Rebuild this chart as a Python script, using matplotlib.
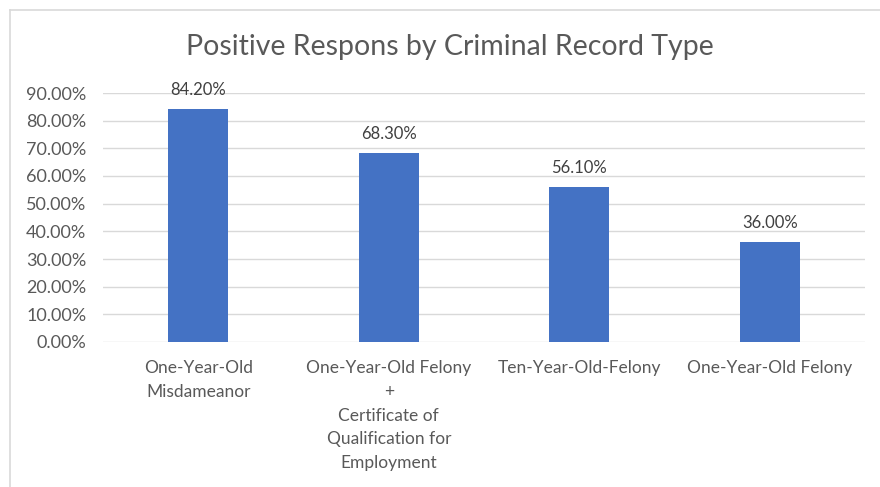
import matplotlib
matplotlib.use("Agg")
import matplotlib.pyplot as plt
from matplotlib.lines import Line2D
from matplotlib.ticker import FuncFormatter

categories = ["One-Year-Old\nMisdameanor",
              "One-Year-Old Felony\n+\nCertificate of\nQualification for\nEmployment",
              "Ten-Year-Old-Felony",
              "One-Year-Old Felony"]
values = [84.2, 68.3, 56.1, 36.0]
yticks = [0, 10, 20, 30, 40, 50, 60, 70, 80, 90]
title = "Positive Respons by Criminal Record Type"

W, H = 880, 487
fig = plt.figure(figsize=(W/100, H/100), dpi=100)
plt.rcParams['font.family'] = ['Lato', 'DejaVu Sans']
txt = '#595959'

# chart border
fig.add_artist(Line2D([10/W, 1], [1-10/H, 1-10/H], color='#d9d9d9', lw=1.2, transform=fig.transFigure))
fig.add_artist(Line2D([10/W, 10/W], [0, 1-10/H], color='#d9d9d9', lw=1.2, transform=fig.transFigure))

left, right = 103, 865
top, bottom = 93, 342
ax = fig.add_axes([left/W, 1-bottom/H, (right-left)/W, (bottom-top)/H])
x = range(len(values))
bars = ax.bar(x, values, width=0.315, color='#4472C4', zorder=3)
ax.set_xlim(-0.5, len(values)-0.5)
ax.set_ylim(0, 90)
ax.set_yticks(yticks)
ax.yaxis.set_major_formatter(FuncFormatter(lambda v, p: f"{v:.2f}%"))
ax.grid(axis='y', color='#d9d9d9', lw=1, zorder=0)
for s in ax.spines.values():
    s.set_visible(False)
ax.tick_params(axis='both', length=0, colors=txt)
ax.tick_params(axis='y', pad=12, labelsize=13)
ax.tick_params(axis='x', pad=13, labelsize=12.5)
ax.set_xticks(list(x))
ax.set_xticklabels(categories, linespacing=1.6)
for b, v in zip(bars, values):
    ax.annotate(f"{v:.2f}%", (b.get_x()+b.get_width()/2, v), xytext=(0, 8),
                textcoords='offset points', ha='center', va='bottom', color='#404040', fontsize=12)

fig.text(450/W, 1-47/H, title, ha='center', va='center', fontsize=20.5, color=txt)
fig.savefig("out.png", dpi=100)
